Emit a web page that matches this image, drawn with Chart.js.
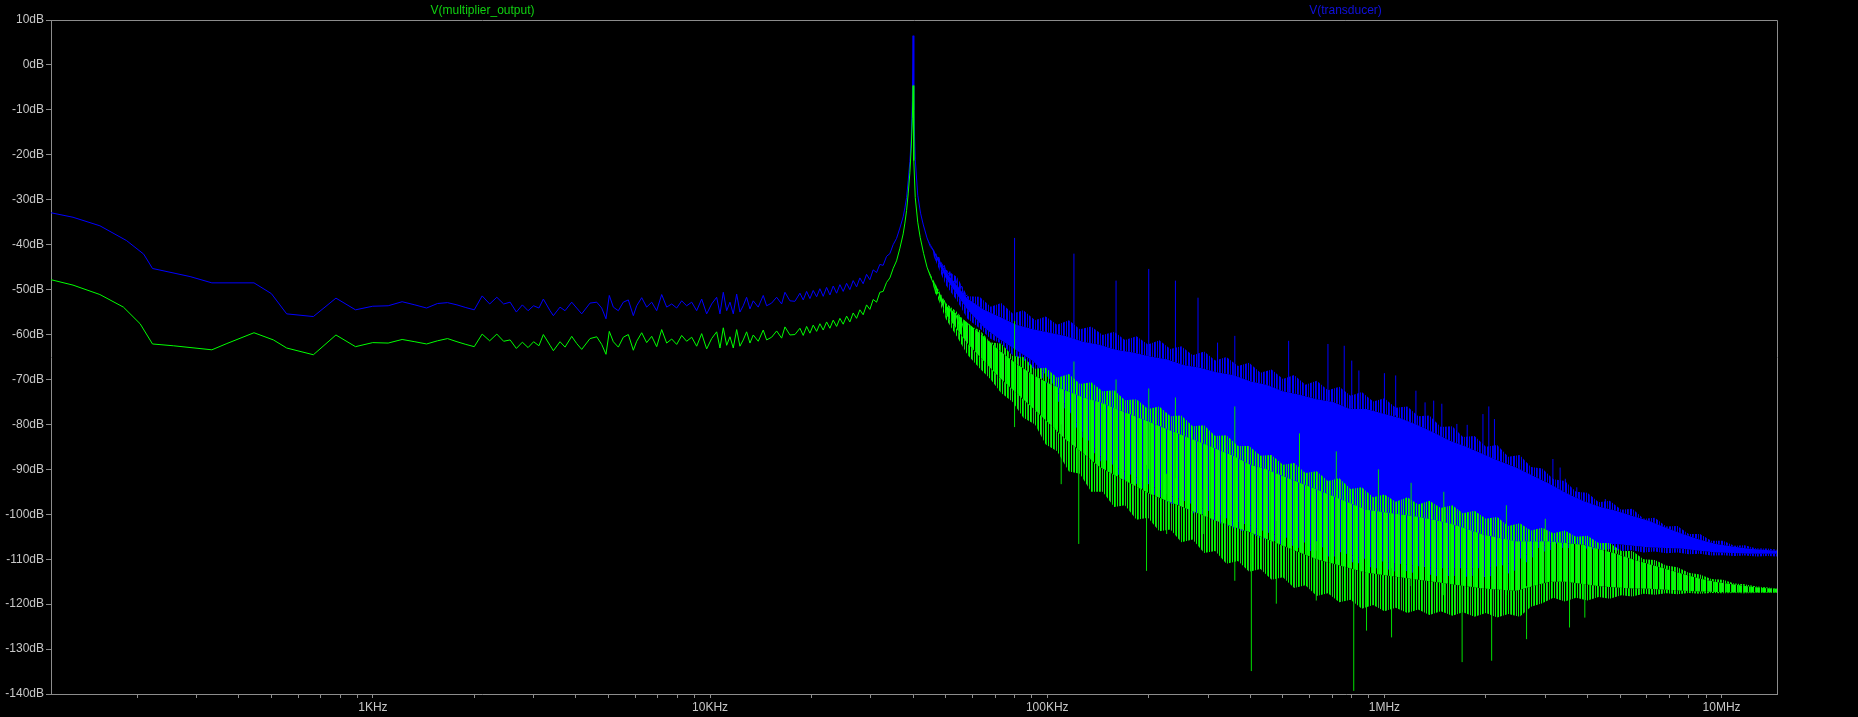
<!DOCTYPE html>
<html>
<head>
<meta charset="utf-8">
<title>FFT</title>
<script src="https://cdn.jsdelivr.net/npm/chart.js@4.4.0/dist/chart.umd.min.js"></script>
<style>
  html, body { margin: 0; padding: 0; background: #000; overflow: hidden; }
  canvas { display: block; background: #000; }
</style>
</head>
<body>
<canvas id="fft" width="1858" height="717"></canvas>
<script>
// series names shown above the plot
const seriesNames = ['V(multiplier_output)', 'V(transducer)'];
const seriesColors = ['#10d010', '#1010e0'];

// x axis labels
const xTickVals = [1e3, 1e4, 1e5, 1e6, 1e7];
const xTickLabels = ['1KHz', '10KHz', '100KHz', '1MHz', '10MHz'];

// V(transducer) trace, low band and resonance (Hz, dB)
const blueF = [111,129,155,186,209,222,287,333,444,500,555,666,777,888,999,1110,1221,1332,1443,1554,1665,1776,1887,1998,2109,2220,2331,2442,2553,2664,2775,
  2886,2997,3108,3203,3353,3430,3589,3714,3888,4022,4162,4406,4612,4771,4913,5025,5165,5345,5530,5722,5921,6059,6270,6486,6713,6946,7186,7436,7695,7962,
  8238,8522,8822,9126,9443,9770,10109,10461,10700,10945,11201,11455,11717,11992,12262,12542,12836,13131,13431,13896,14378,14716,15227,15757,16302,16676,
  17255,17853,18472,18893,19337,19778,20229,20704,21172,21655,22164,22670,23186,23733,24270,24823,25410,25980,26573,27198,27816,28450,29118,29783,30462,
  31178,31883,32610,33377,34140,34918,35737,36556,37390,37825,38265,38690,39138,39500,39800,40000,40200,40600,41300,42100,42900,44000,45000,45900,46800,
  47700,48600,49500,50400,51400,52400,53500,54600,55700,56800,58000];
const blueDb = [-32.9,-33.9,-35.8,-39.1,-42.1,-45.3,-47.1,-48.5,-48.5,-50.9,-55.4,-56.0,-51.9,-54.5,-53.7,-53.6,-52.7,-53.4,-54.1,-53.1,-52.9,-53.4,-54.0,-54.5,-51.4,-53.2,-51.7,-53.2,-52.8,-55.0,-53.4,
  -54.7,-53.6,-54.1,-52.1,-54.7,-55.8,-53.9,-54.7,-52.8,-54.1,-55.4,-53.0,-52.8,-54.1,-56.5,-51.3,-53.9,-54.7,-52.8,-52.3,-55.8,-53.6,-51.8,-53.9,-52.8,-54.7,-51.1,-53.9,-53.2,-54.1,
  -52.5,-53.6,-52.8,-54.7,-52.1,-55.4,-53.2,-51.7,-55.4,-50.6,-54.7,-52.8,-55.4,-51.0,-55.0,-53.6,-51.7,-54.3,-52.5,-53.9,-51.3,-53.6,-53.0,-51.7,-53.2,-50.6,
  -52.5,-52.6,-50.8,-52.3,-50.4,-52.0,-50.2,-51.6,-49.8,-51.5,-49.5,-51.2,-49.2,-50.8,-48.9,-50.4,-48.6,-50.0,-48.0,-49.4,-47.4,-48.7,-46.6,-47.8,-45.6,
  -46.2,-44.4,-44.6,-42.6,-42.0,-40.0,-38.6,-36.3,-33.8,-31.8,-29.5,-25.8,-21.5,-16.5,-8.0,6.5,-10.0,-21.0,-29.0,-33.0,-35.6,-38.5,-40.4,-41.2,-43.6,
  -42.8,-45.4,-44.6,-47.0,-46.0,-48.5,-47.6,-50.0,-49.2,-51.6,-51.2];

// V(multiplier_output) trace, low band and resonance (Hz, dB)
const greenF = [111,129,155,182,204,222,256,333,369,444,507,555,666,777,888,999,1110,1221,1332,1443,1554,1665,1776,1887,1998,2109,2220,2331,2442,2553,2664,2775,
  2886,2997,3108,3203,3353,3430,3589,3714,3888,4022,4162,4406,4612,4771,4913,5025,5165,5345,5530,5722,5921,6059,6270,6486,6713,6946,7186,7436,7695,7962,
  8238,8522,8822,9126,9443,9770,10109,10461,10700,10945,11201,11455,11717,11992,12262,12542,12836,13131,13431,13896,14378,14716,15227,15757,16302,16676,
  17255,17853,18472,18893,19337,19778,20229,20704,21172,21655,22164,22670,23186,23733,24270,24823,25410,25980,26573,27198,27816,28450,29118,29783,30462,
  31178,31883,32610,33377,34140,34918,35737,36556,37390,37825,38265,38690,39138,39500,39800,40000,40200,40600,41300,42000,43000,44000,45000,45900,46800,
  47700,48600,49500,50400,51400,52400,53500,54600,55700,56800,58000];
const greenDb = [-47.8,-49.0,-51.1,-53.9,-57.6,-62.1,-62.5,-63.4,-62.0,-59.6,-61.2,-63.0,-64.5,-60.1,-62.7,-61.8,-61.9,-61.1,-61.6,-62.1,-61.4,-60.9,-61.6,-62.2,-62.7,-59.9,-61.4,-59.9,-61.5,-61.2,-63.1,-61.7,
  -62.9,-61.6,-62.5,-60.0,-62.4,-63.6,-61.6,-62.8,-60.4,-62.0,-63.3,-60.9,-60.5,-62.2,-64.4,-59.3,-61.6,-62.8,-60.6,-60.0,-63.5,-61.5,-59.6,-61.8,-60.4,-62.7,-58.9,-61.9,-61.0,-62.2,
  -60.2,-61.5,-60.6,-62.6,-59.8,-63.2,-60.9,-59.4,-63.0,-58.5,-62.4,-60.5,-63.0,-58.9,-62.6,-61.2,-59.4,-61.9,-60.1,-61.5,-59.0,-61.2,-60.6,-59.2,-60.8,-58.3,
  -60.1,-60.0,-58.6,-60.2,-58.2,-59.7,-57.9,-59.3,-57.6,-59.0,-57.2,-58.6,-56.8,-58.2,-56.4,-57.7,-55.9,-57.2,-55.2,-56.4,-54.5,-55.6,-53.4,-54.4,-52.2,
  -52.8,-50.6,-50.4,-48.4,-47.4,-45.3,-43.6,-40.8,-37.6,-35.2,-32.4,-28.7,-24.0,-18.5,-12.0,-4.6,-21.3,-29.5,-35.0,-38.4,-42.0,-45.0,-47.0,-48.5,-51.0,
  -50.6,-53.0,-52.4,-54.6,-54.0,-56.0,-55.4,-57.6,-57.0,-59.4,-59.0];

// noise floor above the resonance, dense middle of each band (Hz, dB)
const coreF = [44e3,50e3,58e3,65e3,72e3,81e3,91e3,102e3,114e3,128e3,143e3,160e3,180e3,202e3,226e3,254e3,284e3,318e3,356e3,400e3,447e3,500e3,
  561e3,630e3,705e3,790e3,885e3,990e3,1.11e6,1.245e6,1.4e6,1.56e6,1.75e6,1.96e6,2.2e6,2.46e6,2.75e6,3.09e6,3.45e6,3.88e6,4.35e6,4.87e6,
  5.45e6,6.11e6,6.85e6,7.68e6,8.6e6,9.64e6,10.8e6,12.1e6,13.3e6,14.6e6];
const blueCoreHi = [-38.5,-46.0,-52.0,-54.5,-56.0,-57.8,-58.8,-59.6,-60.4,-61.6,-62.3,-63.4,-64.0,-64.9,-65.5,-66.8,-67.4,-68.4,-69.0,-70.4,-71.2,-72.6,
  -73.4,-74.4,-75.0,-76.6,-76.6,-77.6,-78.6,-80.0,-81.8,-83.6,-85.0,-86.6,-88.2,-89.6,-91.4,-93.2,-95.2,-97.0,-98.3,-99.2,
  -100.4,-101.5,-103.0,-104.4,-105.6,-106.6,-107.2,-107.7,-107.9,-108.1];
const blueCoreLo = [-38.5,-47.5,-54.5,-58.5,-61.0,-63.5,-66.0,-70.0,-76.0,-82.0,-87.0,-89.5,-91.5,-93.5,-95.5,-97.0,-98.5,-100.0,-101.5,-102.5,-104.0,-105.0,
  -106.0,-107.0,-108.0,-109.0,-110.0,-110.5,-111.0,-111.5,-112.0,-112.0,-112.0,-112.0,-111.5,-110.5,-108.0,-106.5,-106.5,-106.6,-106.6,-106.6,
  -107.0,-107.4,-107.5,-107.7,-108.1,-108.5,-108.6,-108.8,-108.8,-108.8];
const greenCoreHi = [-45.0,-53.5,-57.4,-60.5,-63.5,-66.5,-69.0,-71.0,-72.5,-74.0,-75.0,-76.5,-78.0,-79.5,-81.0,-82.5,-84.0,-85.5,-87.0,-89.0,-90.0,-91.5,
  -93.0,-94.5,-96.0,-97.5,-99.0,-99.5,-100.0,-100.5,-101.2,-102.0,-103.2,-104.5,-105.3,-106.0,-106.0,-106.0,-106.4,-106.8,-107.8,-108.8,
  -110.0,-111.1,-112.2,-113.3,-114.3,-115.1,-115.6,-116.1,-116.4,-116.6];
const greenCoreLo = [-45.0,-55.5,-62.0,-66.0,-69.5,-73.0,-76.5,-80.0,-83.5,-86.5,-89.5,-91.5,-93.5,-95.5,-97.0,-98.5,-100.0,-101.5,-102.8,-104.0,-105.5,-107.0,
  -108.5,-110.0,-111.0,-112.0,-113.0,-113.5,-114.0,-114.5,-115.0,-115.5,-116.0,-116.5,-116.8,-117.0,-116.0,-115.0,-115.0,-115.5,-116.0,-116.3,
  -116.5,-116.6,-116.8,-117.0,-117.2,-117.3,-117.4,-117.4,-117.4,-117.4];

// ragged outer edges of the noise bands (Hz, dB)
const edgeF = [46e3,50e3,54e3,58e3,63e3,68e3,73e3,79e3,85e3,92e3,99e3,107e3,116e3,125e3,135e3,146e3,158e3,170e3,184e3,199e3,215e3,232e3,250e3,270e3,
  292e3,315e3,340e3,368e3,397e3,429e3,463e3,500e3,540e3,583e3,630e3,680e3,735e3,794e3,857e3,926e3,1.0e6,1.08e6,1.17e6,1.26e6,1.36e6,1.47e6,
  1.59e6,1.71e6,1.85e6,2.0e6,2.16e6,2.33e6,2.52e6,2.72e6,2.94e6,3.17e6,3.43e6,3.7e6,4.0e6,4.32e6,4.66e6,5.04e6,5.44e6,5.87e6,6.34e6,6.85e6,
  7.4e6,7.99e6,8.63e6,9.32e6,10.1e6,10.9e6,11.7e6,12.7e6,13.7e6,14.6e6];
const blueEdgeHi = [-41.0,-45.5,-47.2,-51.5,-51.6,-53.8,-53.0,-55.3,-54.6,-56.8,-56.0,-57.8,-56.8,-58.8,-58.2,-60.1,-59.4,-61.2,-60.4,-62.2,-61.3,-63.2,-62.6,-64.6,
  -63.8,-65.8,-65.0,-67.0,-66.3,-68.5,-67.8,-69.9,-69.0,-71.2,-70.3,-72.4,-71.6,-73.6,-72.8,-74.9,-74.2,-76.3,-76.0,-78.2,-78.0,-80.6,
  -80.4,-82.8,-82.6,-85.0,-84.6,-87.2,-86.8,-89.5,-89.8,-92.2,-92.6,-95.0,-95.2,-97.3,-97.0,-99.0,-98.8,-101.0,-100.8,-102.7,
  -102.6,-104.4,-104.4,-105.9,-105.9,-107.0,-106.9,-107.6,-107.6,-107.9];
const blueEdgeLo = [-42.5,-49.0,-52.5,-56.5,-58.6,-61.0,-62.0,-64.6,-65.6,-68.0,-70.5,-74.6,-77.5,-82.2,-85.4,-88.8,-90.4,-92.4,-93.2,-95.2,-96.0,-97.6,-98.0,-99.8,
  -100.0,-101.8,-102.4,-103.6,-103.8,-105.4,-105.6,-107.0,-107.0,-108.2,-108.2,-109.4,-109.4,-110.6,-111.0,-112.0,-112.0,-112.8,-112.6,-113.4,-113.4,-114.0,
  -113.6,-114.0,-113.6,-114.0,-113.4,-113.2,-112.0,-109.8,-108.4,-107.8,-107.4,-107.8,-107.6,-108.0,-107.8,-108.2,-108.0,-108.5,-108.3,-108.7,
  -108.5,-108.9,-108.8,-109.2,-109.1,-109.3,-109.2,-109.4,-109.3,-109.4];
const greenEdgeHi = [-48.0,-53.0,-55.0,-57.8,-59.0,-61.8,-62.0,-64.8,-65.0,-67.6,-67.4,-69.6,-68.8,-71.0,-70.6,-72.6,-72.4,-74.6,-74.4,-76.6,-76.0,-78.2,-78.0,-80.4,
  -80.2,-82.6,-82.4,-84.8,-84.8,-87.0,-86.8,-89.0,-88.6,-90.8,-90.4,-92.6,-92.0,-94.4,-94.0,-96.2,-95.6,-97.2,-96.2,-97.8,-97.0,-98.6,
  -98.0,-99.8,-99.2,-101.0,-100.6,-102.6,-102.0,-103.6,-103.0,-104.2,-103.6,-105.0,-104.8,-106.4,-106.4,-108.2,-108.2,-110.0,-110.2,-111.4,
  -111.8,-113.0,-113.4,-114.4,-114.6,-115.4,-115.6,-116.1,-116.3,-116.5];
const greenEdgeLo = [-49.5,-56.5,-60.5,-64.5,-67.5,-70.0,-73.0,-75.0,-78.5,-80.0,-84.5,-86.0,-90.5,-91.0,-95.0,-95.0,-98.4,-98.0,-101.2,-100.8,-103.8,-103.4,-106.2,-105.6,
  -108.6,-108.2,-111.0,-110.4,-112.8,-112.2,-114.6,-114.0,-116.4,-115.8,-118.2,-117.6,-119.6,-119.0,-121.0,-120.2,-121.6,-120.8,-122.0,-121.2,-122.4,-121.6,
  -122.6,-121.8,-122.8,-122.0,-123.0,-122.2,-122.8,-120.6,-119.8,-118.6,-119.4,-118.6,-119.2,-118.4,-118.8,-118.0,-118.3,-117.7,-117.9,-117.6,
  -117.8,-117.5,-117.7,-117.5,-117.6,-117.5,-117.6,-117.5,-117.5,-117.5];

// isolated spurs (Hz, top dB, bottom dB)
const blueSpikeF = [80e3,120e3,160e3,200e3,240e3,280e3,320e3,360e3,520e3,680e3,760e3,800e3,840e3,1.0e6,1.08e6,1.24e6,1.32e6,1.4e6,1.48e6,
  1.64e6,1.76e6,1.96e6,2.04e6,2.12e6,3.16e6,3.32e6,3.44e6,3.72e6,4.52e6];
const blueSpikeTop = [-38.5,-42.0,-48.0,-45.4,-48.0,-51.8,-61.8,-60.3,-61.4,-62.1,-62.5,-65.8,-68.0,-68.6,-69.1,-72.5,-75.1,-74.7,-75.4,
  -79.9,-80.1,-77.7,-76.0,-78.8,-87.7,-89.6,-92.1,-94.0,-96.6];
const blueSpikeBot = [-58.0,-61.0,-63.4,-65.0,-66.5,-67.5,-68.5,-69.5,-73.0,-75.0,-76.0,-76.5,-76.6,-77.6,-78.0,-80.0,-81.0,-81.8,-83.0,
  -84.0,-85.0,-86.6,-87.4,-88.0,-93.5,-94.5,-95.2,-96.5,-98.5];

const greenSpikeF = [80e3,110e3,120e3,124e3,160e3,197e3,200e3,226e3,240e3,290e3,360e3,403e3,478e3,560e3,628e3,720e3,811e3,885e3,960e3,
  1.05e6,1.2e6,1.5e6,1.7e6,2.08e6,2.3e6,2.64e6,3.0e6,3.54e6,3.93e6];
const greenSpikeTop = [-57.0,-80.0,-66.0,-82.0,-70.0,-89.0,-72.0,-91.0,-74.0,-94.5,-76.0,-99.5,-101.5,-82.0,-106.0,-86.0,-110.0,-111.0,-90.0,
  -112.0,-93.0,-95.0,-115.0,-116.0,-98.0,-116.0,-101.0,-115.0,-115.5];
const greenSpikeBot = [-80.6,-93.3,-84.0,-106.6,-88.0,-112.6,-90.0,-104.4,-92.0,-104.4,-114.8,-134.9,-119.9,-108.0,-119.2,-110.0,-139.3,-125.9,-112.0,
  -127.4,-116.0,-118.0,-132.9,-132.6,-118.0,-127.8,-115.0,-125.2,-123.0];

const axisColor = '#8c8c8c';
const labelColor = '#c8c8c8';
const labelFont = { family: '"Liberation Sans", Arial, sans-serif', size: 12 };
const clear = 'rgba(0,0,0,0)';

// vertical hairline texture used to fill the noise bands
function stripes(cols) {
  const c = document.createElement('canvas');
  c.width = cols.length;
  c.height = 1;
  const g = c.getContext('2d');
  cols.forEach((col, i) => { if (col) { g.fillStyle = col; g.fillRect(i, 0, 1, 1); } });
  return g.createPattern(c, 'repeat');
}
const greenEdgeFill = stripes(['#00ff00', null, '#00c000', '#00ff00', null, '#00ff00', '#30b030', null, '#00e000', null, '#00ff00', '#00c000',
  null, '#00ff00', null, '#20a820', '#00ff00', null, '#00ff00', '#00d000', null, '#30b830', null]);
const greenCoreFill = stripes(['#00ff00', '#00ff00', null, '#00e000', '#00ff00', '#00ff00', '#30d030', '#00ff00', null, '#00ff00', '#00d800', '#00ff00']);
const blueEdgeFill = stripes(['#0000ff', null, '#0000ff', '#0000c0', null, '#0000ff', '#0000ff', null, '#0000e0', null, '#0000ff', '#0000d0', null]);

const pts = (fs, ds) => fs.map((f, i) => ({ x: f, y: ds[i] }));
const spikes = (fs, top, bot) => fs.flatMap((f, i) => [{ x: f, y: bot[i] }, { x: f, y: top[i] }, { x: f, y: null }]);

function line(data, color) {
  return { data: data, borderColor: color, borderWidth: 1, pointRadius: 0, fill: false, spanGaps: false };
}
function area(data, fillColor) {
  return { data: data, borderColor: clear, borderWidth: 1, pointRadius: 0,
    backgroundColor: fillColor || clear, fill: fillColor ? '+1' : false };
}

const xTicks = [];
for (let e = 2; e <= 7; e++) {
  for (let m = 1; m <= 9; m++) {
    const v = m * Math.pow(10, e);
    if (v > 111 && v < 14.6e6) xTicks.push(v);
  }
}

// datasets earlier in the list are painted on top
const datasets = [
  line(spikes(greenSpikeF, greenSpikeTop, greenSpikeBot), '#00e000'),
  line(pts(greenF, greenDb), '#00ff00'),
  area(pts(edgeF, greenEdgeHi), greenEdgeFill),
  area(pts(coreF, greenCoreHi), greenCoreFill),
  area(pts(coreF, greenCoreLo), greenEdgeFill),
  area(pts(edgeF, greenEdgeLo), null),
  line(spikes(blueSpikeF, blueSpikeTop, blueSpikeBot), '#0000ff'),
  line(pts(blueF, blueDb), '#0000ff'),
  area(pts(edgeF, blueEdgeHi), blueEdgeFill),
  area(pts(coreF, blueCoreHi), '#0000ff'),
  area(pts(coreF, blueCoreLo), blueEdgeFill),
  area(pts(edgeF, blueEdgeLo), null)
];

const frame = {
  id: 'frame',
  afterDraw(chart) {
    const { ctx, chartArea: a } = chart;
    ctx.save();
    ctx.strokeStyle = axisColor;
    ctx.lineWidth = 1;
    ctx.beginPath();
    ctx.moveTo(a.left, Math.round(a.top) + 0.5);
    ctx.lineTo(Math.round(a.right) + 0.5, Math.round(a.top) + 0.5);
    ctx.lineTo(Math.round(a.right) + 0.5, a.bottom);
    ctx.stroke();
    ctx.font = '12px "Liberation Sans", Arial, sans-serif';
    ctx.textAlign = 'center';
    ctx.textBaseline = 'middle';
    seriesNames.forEach((n, i) => {
      ctx.fillStyle = seriesColors[i];
      ctx.fillText(n, a.left + a.width * (0.25 + 0.5 * i), 11);
    });
    ctx.restore();
  }
};

new Chart(document.getElementById('fft'), {
  type: 'line',
  data: { datasets: datasets },
  plugins: [frame],
  options: {
    responsive: false,
    animation: false,
    events: [],
    layout: { padding: { top: 20, right: 81, left: 0, bottom: 0 } },
    plugins: { legend: { display: false }, tooltip: { enabled: false } },
    elements: { line: { tension: 0 }, point: { radius: 0 } },
    scales: {
      x: {
        type: 'logarithmic',
        min: 111,
        max: 14.6e6,
        afterBuildTicks: axis => { axis.ticks = xTicks.map(v => ({ value: v })); },
        afterFit: axis => { axis.height = 23; },
        ticks: {
          autoSkip: false, maxRotation: 0, padding: 2, color: labelColor, font: labelFont,
          callback: v => { const i = xTickVals.indexOf(v); return i < 0 ? '' : xTickLabels[i]; }
        },
        grid: { drawOnChartArea: false, tickLength: 4, color: axisColor },
        border: { color: axisColor }
      },
      y: {
        min: -140,
        max: 10,
        afterFit: axis => { axis.width = 51; },
        ticks: { stepSize: 10, padding: 2, color: labelColor, font: labelFont, callback: v => v + 'dB' },
        grid: { drawOnChartArea: false, tickLength: 5, color: axisColor },
        border: { color: axisColor }
      }
    }
  }
});
</script>
</body>
</html>
